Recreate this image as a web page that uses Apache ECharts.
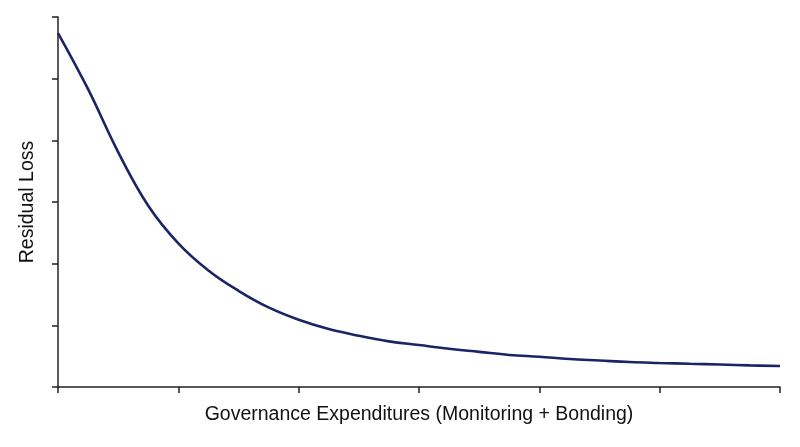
<!DOCTYPE html>
<html><head><meta charset="utf-8">
<script src="https://cdn.jsdelivr.net/npm/echarts@6/dist/echarts.min.js"></script>
<style>html,body{margin:0;padding:0;background:#fff}#c{width:800px;height:447px}</style>
</head><body><div id="c"></div>
<script>
var xValues = [0, 0.25, 0.5, 0.75, 1, 1.25, 1.5, 1.75, 2, 2.25, 2.5, 2.75, 3, 3.25, 3.5, 3.75, 4, 4.25, 4.5, 4.75, 5, 5.25, 5.5, 5.75, 6];
var residualLoss = [5.74, 4.83, 3.81, 2.94, 2.33, 1.89, 1.56, 1.29, 1.09, 0.94, 0.83, 0.74, 0.68, 0.62, 0.57, 0.52, 0.49, 0.455, 0.43, 0.405, 0.39, 0.377, 0.365, 0.35, 0.34];
var xName = 'Governance Expenditures (Monitoring + Bonding)';
var yName = 'Residual Loss';

var chart = echarts.init(document.getElementById('c'));
var axisCol = '#222';
chart.setOption({
  animation: false,
  grid: {left: 58, right: 20, top: 17, bottom: 60},
  xAxis: {
    type: 'value', min: 0, max: 6, interval: 1,
    name: xName, nameLocation: 'middle', nameGap: 18,
    nameTextStyle: {fontFamily: 'Liberation Sans', fontSize: 19.5, color: '#111'},
    axisLine: {show: true, lineStyle: {color: axisCol, width: 1.5}},
    axisTick: {show: true, length: 6, lineStyle: {color: axisCol, width: 1.5}},
    axisLabel: {show: false},
    splitLine: {show: false}
  },
  yAxis: {
    type: 'value', min: 0, max: 6, interval: 1,
    name: yName, nameLocation: 'middle', nameGap: 20, nameRotate: 90,
    nameTextStyle: {fontFamily: 'Liberation Sans', fontSize: 19.5, color: '#111'},
    axisLine: {show: true, lineStyle: {color: axisCol, width: 1.5}},
    axisTick: {show: true, length: 6, lineStyle: {color: axisCol, width: 1.5}},
    axisLabel: {show: false},
    splitLine: {show: false}
  },
  series: [{
    type: 'line', smooth: 0.4, showSymbol: false,
    data: xValues.map(function (x, i) { return [x, residualLoss[i]]; }),
    lineStyle: {color: '#1b2464', width: 2.6}
  }]
});
</script></body></html>
